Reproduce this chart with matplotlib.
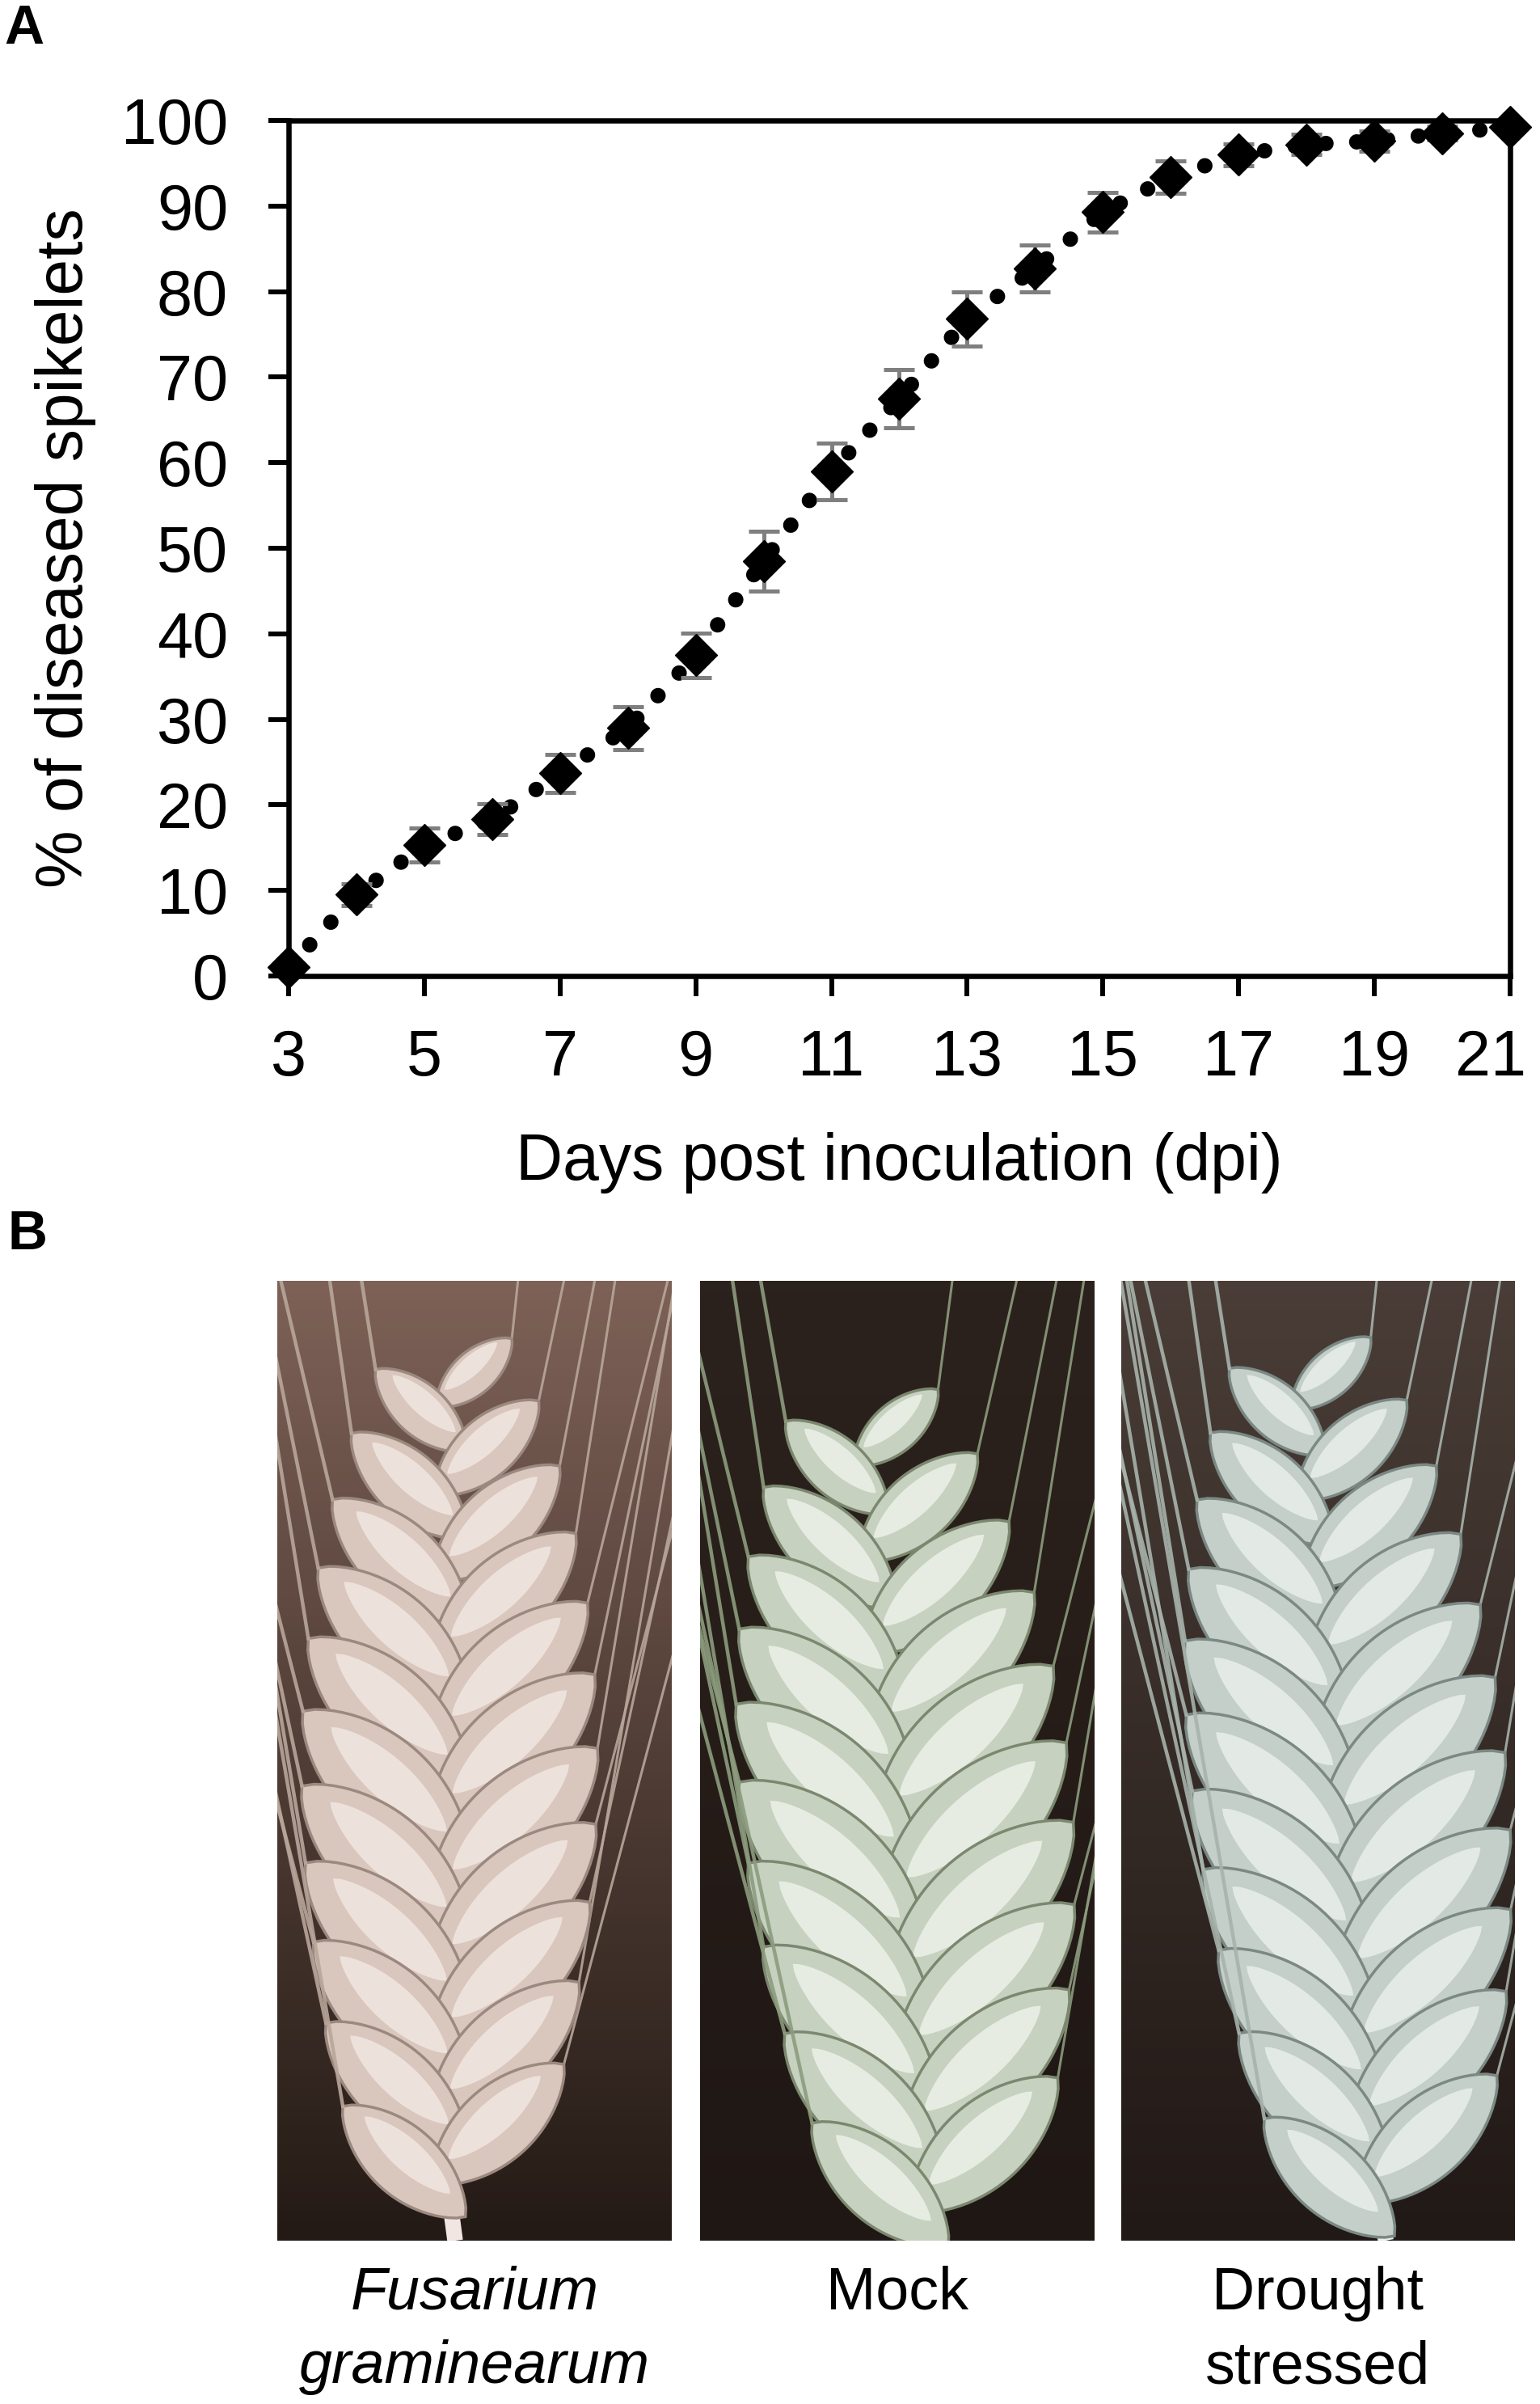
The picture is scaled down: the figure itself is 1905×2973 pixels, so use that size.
import numpy as np
import matplotlib
matplotlib.use('Agg')
import matplotlib.pyplot as plt
import matplotlib.transforms as mtransforms
from matplotlib.patches import Polygon

plt.rcParams['font.family'] = ['Liberation Sans', 'DejaVu Sans']

# данные панели A (% пораженных колосков)
days = [3, 4, 5, 6, 7, 8, 9, 10, 11, 12, 13, 14, 15, 16, 17, 18, 19, 20, 21]
diseased = [1.0, 9.5, 15.3, 18.3, 23.7, 29.0, 37.5, 48.5, 59.0, 67.5, 76.8,
            82.7, 89.3, 93.4, 96.0, 97.2, 97.6, 98.5, 99.2]
sem = [0.4, 1.3, 2.0, 1.8, 2.2, 2.5, 2.6, 3.5, 3.3, 3.4, 3.2,
       2.7, 2.3, 1.9, 1.3, 1.2, 1.2, 0.8, 0.5]
x_ticks = [3, 5, 7, 9, 11, 13, 15, 17, 19, 21]
y_ticks = [0, 10, 20, 30, 40, 50, 60, 70, 80, 90, 100]

# подписи панели B
captions = [['Fusarium', 'graminearum'], ['Mock'], ['Drought', 'stressed']]
caption_style = ['italic', 'normal', 'normal']

W, H = 1905, 2973
fig = plt.figure(figsize=(W / 100, H / 100), dpi=100)


def box(x0, y0, x1, y1):
    # пиксели -> доли фигуры
    return [x0 / W, 1 - y1 / H, (x1 - x0) / W, (y1 - y0) / H]


# ---------- панель A ----------
ax = fig.add_axes(box(357, 149, 1868, 1207))
ax.plot(days, diseased, color='black', lw=13.7, linestyle=(0, (0.01, 2.0)),
        dash_capstyle='round', clip_on=False, zorder=2)
ax.errorbar(days, diseased, yerr=sem, fmt='none', ecolor='#7f7f7f',
            elinewidth=3.6, capsize=13.7, capthick=3.6, zorder=3, clip_on=False)
ax.plot(days, diseased, 'D', color='black', ms=26.5, clip_on=False, zorder=4)

ax.set_xlim(3, 21)
ax.set_ylim(0, 100)
ax.set_xticks(x_ticks)
ax.set_yticks(y_ticks)
for s in ax.spines.values():
    s.set_linewidth(4.7)
ax.tick_params(direction='out', length=18, width=4.3, labelsize=57)
ax.tick_params(axis='x', pad=29)
ax.tick_params(axis='y', pad=36)
ax.set_xlabel('Days post inoculation (dpi)', fontsize=58, labelpad=38)
ax.set_ylabel('% of diseased spikelets', fontsize=58, labelpad=22)

# последняя метка по оси X сдвинута влево, чтобы влезла в рисунок
last = ax.get_xticklabels()[-1]
last.set_transform(last.get_transform() +
                   mtransforms.ScaledTranslation(-0.24, 0, fig.dpi_scale_trans))

fig.text(5 / W, 1 - 4 / H, 'A', fontsize=49, fontweight='bold', va='top', ha='left')
fig.text(9 / W, 1 - 1495 / H, 'B', fontsize=49, fontweight='bold', va='top', ha='left')


# ---------- панель B: стилизованные колосья ----------
def lens(cx, cy, length, width, angle):
    s = np.linspace(-1, 1, 30)
    a = s * length / 2
    p = (width / 2) * (1 - s ** 2) ** 0.8
    pts = np.concatenate([np.c_[a, p], np.c_[a[::-1], -p[::-1]]])
    th = np.deg2rad(angle)
    rot = np.array([[np.cos(th), -np.sin(th)], [np.sin(th), np.cos(th)]])
    return pts @ rot.T + [cx, cy]


def draw_spike(ax, base, tip, half_w, n_rows, bg, body, light, edge, awn):
    pw, ph = 488, 1187
    grad = np.linspace(0, 1, 100)[:, None]
    top_c = np.array(matplotlib.colors.to_rgb(bg[0]))
    bot_c = np.array(matplotlib.colors.to_rgb(bg[1]))
    img = top_c * (1 - grad[..., None]) + bot_c * grad[..., None]
    ax.imshow(img, extent=[0, pw, 0, ph], aspect='auto', origin='upper', zorder=0)
    bx, by = base
    tx, ty = tip
    # стебель
    ax.plot([bx, bx + 8], [by, 0], color=light, lw=14, solid_capstyle='butt', zorder=1)
    tips = []
    for i in reversed(range(n_rows)):
        for side in (1, -1):
            t = (i + (0.5 if side == 1 else 0.0) + 0.3) / (n_rows + 0.3)
            cx = bx + (tx - bx) * t
            cy = by + (ty - by) * t
            hw = half_w * np.sin(np.pi * (0.18 + 0.78 * t)) ** 0.7
            ang = 90 - side * 48
            L = hw * 1.25 + 40
            Wd = L * 0.42
            ccx = cx + side * hw * 0.42
            ccy = cy + 10
            ax.add_patch(Polygon(lens(ccx, ccy, L, Wd, ang), closed=True,
                                 fc=body, ec=edge, lw=2.5, zorder=3))
            ax.add_patch(Polygon(lens(ccx - side * 4, ccy + 8, L * 0.7, Wd * 0.45, ang),
                                 closed=True, fc=light, ec='none', alpha=0.85, zorder=3))
            th = np.deg2rad(ang)
            tips.append((ccx + np.cos(th) * L / 2, ccy + np.sin(th) * L / 2, side))
    # ости
    for k, (x0, y0, side) in enumerate(tips):
        spread = side * (0.18 + 0.05 * (k % 3))
        ax.plot([x0, x0 + spread * (ph - y0)], [y0, ph + 50], color=awn,
                lw=2.2 + (k % 2), alpha=0.9, zorder=2 + (k % 2) * 2)
    ax.set_xlim(0, pw)
    ax.set_ylim(0, ph)
    ax.axis('off')


panels = [
    dict(rect=(343, 1584, 831, 2771), base=(212, 60), tip=(215, 1110), half_w=190, n=11,
         bg=('#7d6157', '#241a15'), body='#d9c6bd', light='#f1e6e1', edge='#9b887f', awn='#b9a69b'),
    dict(rect=(866, 1584, 1354, 2771), base=(288, 30), tip=(205, 1045), half_w=215, n=10,
         bg=('#2c221d', '#1f1714'), body='#c6d1c0', light='#eef1ea', edge='#7b886f', awn='#8c9c7e'),
    dict(rect=(1387, 1584, 1874, 2771), base=(320, 40), tip=(225, 1110), half_w=205, n=11,
         bg=('#4a3d37', '#211916'), body='#c3cfc8', light='#e9eeea', edge='#7b8884', awn='#a7b3ab'),
]
for p in panels:
    pax = fig.add_axes(box(*p['rect']))
    draw_spike(pax, p['base'], p['tip'], p['half_w'], p['n'], p['bg'],
               p['body'], p['light'], p['edge'], p['awn'])

# подписи под фото
centers = [587, 1110, 1630]
for cx, lines, style in zip(centers, captions, caption_style):
    for j, line in enumerate(lines):
        fig.text(cx / W, 1 - (2856 + 91 * j) / H, line, fontsize=53, style=style,
                 ha='center', va='baseline')

fig.savefig('out.png', dpi=100, facecolor='white')
